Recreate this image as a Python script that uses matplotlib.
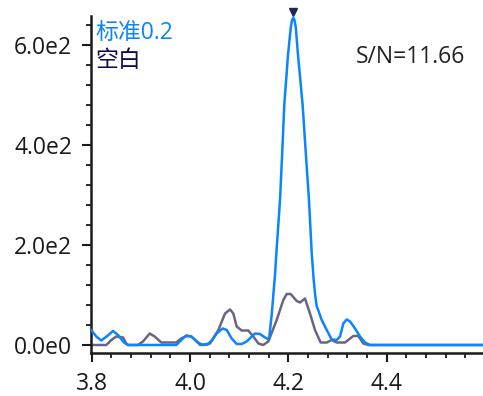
import matplotlib
matplotlib.use("Agg")
import matplotlib.pyplot as plt
from matplotlib.ticker import MultipleLocator, FuncFormatter
import math

# ---- data ----
std_x = [3.798, 3.8094, 3.8195, 3.8317, 3.8433, 3.8535, 3.8657, 3.8738, 3.972,
         3.9822, 3.9924, 4.0026, 4.016, 4.026, 4.036, 4.045, 4.054, 4.0664,
         4.0746, 4.0847, 4.0949, 4.105, 4.1152, 4.132, 4.1423, 4.1525, 4.1606,
         4.166, 4.1728, 4.176, 4.183, 4.1877, 4.1917, 4.1992, 4.205, 4.2075,
         4.21, 4.2125, 4.215, 4.2196, 4.229, 4.235, 4.2419, 4.2474, 4.2515,
         4.2545, 4.2576, 4.2678, 4.278, 4.2881, 4.2983, 4.305, 4.3118, 4.3186,
         4.3254, 4.3355, 4.3457, 4.3559, 4.366, 4.596]
std_y = [31, 17, 9, 18, 28, 20, 5, 0, 0,
         10, 19, 17, 5, 0, 1, 10, 23, 33,
         30, 13, 2, 2, 7, 23, 22, 15, 11,
         60, 140, 190, 290, 390, 480, 580, 636, 650,
         654, 650, 636, 580, 480, 390, 290, 185, 130,
         100, 78, 50, 30, 11, 10, 17, 43, 51,
         47, 33, 17, 5, 0, 0]

blank_x = [3.798, 3.8297, 3.84, 3.85, 3.8637, 3.8705, 3.874, 3.894, 3.9043,
           3.918, 3.928, 3.9416, 3.972, 3.982, 3.9924, 4.0026, 4.016, 4.0206,
           4.0407, 4.0576, 4.0712, 4.0813, 4.088, 4.0949, 4.105, 4.1185, 4.1287,
           4.1389, 4.149, 4.1592, 4.1763, 4.1897, 4.1966, 4.2047, 4.2169, 4.2237,
           4.2338, 4.244, 4.2541, 4.2657, 4.2779, 4.288, 4.2983, 4.3152, 4.332,
           4.3422, 4.3524, 4.3625, 4.596]
blank_y = [0, 0, 10, 17, 15, 3, 0, 0, 7,
           23, 17, 5, 5, 13, 18, 17, 5, 0,
           3, 30, 63, 71, 63, 37, 29, 29, 17,
           3, 0, 7, 50, 90, 102, 102, 88, 85,
           93, 63, 30, 5, 5, 10, 5, 5, 18,
           18, 3, 0, 0]

peak_rt = 4.21
peak_mark = 666
sn_text = "S/N=11.66"
labels = ["标准0.2", "空白"]

plt.rcParams['font.family'] = ['Open Sans', 'Noto Sans CJK SC', 'DejaVu Sans']

fig = plt.figure(figsize=(4.83, 3.96), dpi=100)
ax = fig.add_axes([0.1884, 0.1086, 0.8116, 0.851])

ax.plot(blank_x, blank_y, color="#6a6482", linewidth=1.8, zorder=2,
        solid_joinstyle="round")
ax.plot(std_x, std_y, color="#0a84ff", linewidth=1.8, zorder=3,
        solid_joinstyle="round")
ax.plot([peak_rt], [peak_mark], marker="v", markersize=6, color="#1c2a5a",
        clip_on=False, zorder=4)

ax.set_xlim(3.7986, 4.5958)
ax.set_ylim(-16, 658)

ax.xaxis.set_major_locator(MultipleLocator(0.2))
ax.xaxis.set_minor_locator(MultipleLocator(0.04))
ax.yaxis.set_major_locator(MultipleLocator(200))
ax.yaxis.set_minor_locator(MultipleLocator(40))

def sci_fmt(v, pos):
    if abs(v) < 1e-9:
        return "0.0e0"
    e = int(math.floor(math.log10(abs(v))))
    return f"{v / 10**e:.1f}e{e}"

ax.yaxis.set_major_formatter(FuncFormatter(sci_fmt))
ax.xaxis.set_major_formatter(FuncFormatter(lambda v, p: f"{v:.1f}"))

ax.spines[['top', 'right']].set_visible(False)
for s in ['left', 'bottom']:
    ax.spines[s].set_linewidth(1.8)
    ax.spines[s].set_color("#1a1a1a")

ax.tick_params(which='major', length=6.5, width=1.5, color="#1a1a1a",
               labelsize=16.5, labelcolor="#1a1a1a")
ax.tick_params(axis='y', which='major', pad=7)
ax.tick_params(axis='x', which='major', pad=7)
ax.tick_params(which='minor', length=3.5, width=1.3, color="#1a1a1a")

ax.text(0.012, 0.95, labels[0], transform=ax.transAxes, color="#0a84ff",
        fontsize=16.5, va='center', ha='left')
ax.text(0.012, 0.867, labels[1], transform=ax.transAxes, color="#0d0d4d",
        fontsize=16.5, va='center', ha='left')
ax.text(0.675, 0.878, sn_text, transform=ax.transAxes, color="#222222",
        fontsize=16.5, va='center', ha='left')

fig.savefig("out.png", dpi=100)
